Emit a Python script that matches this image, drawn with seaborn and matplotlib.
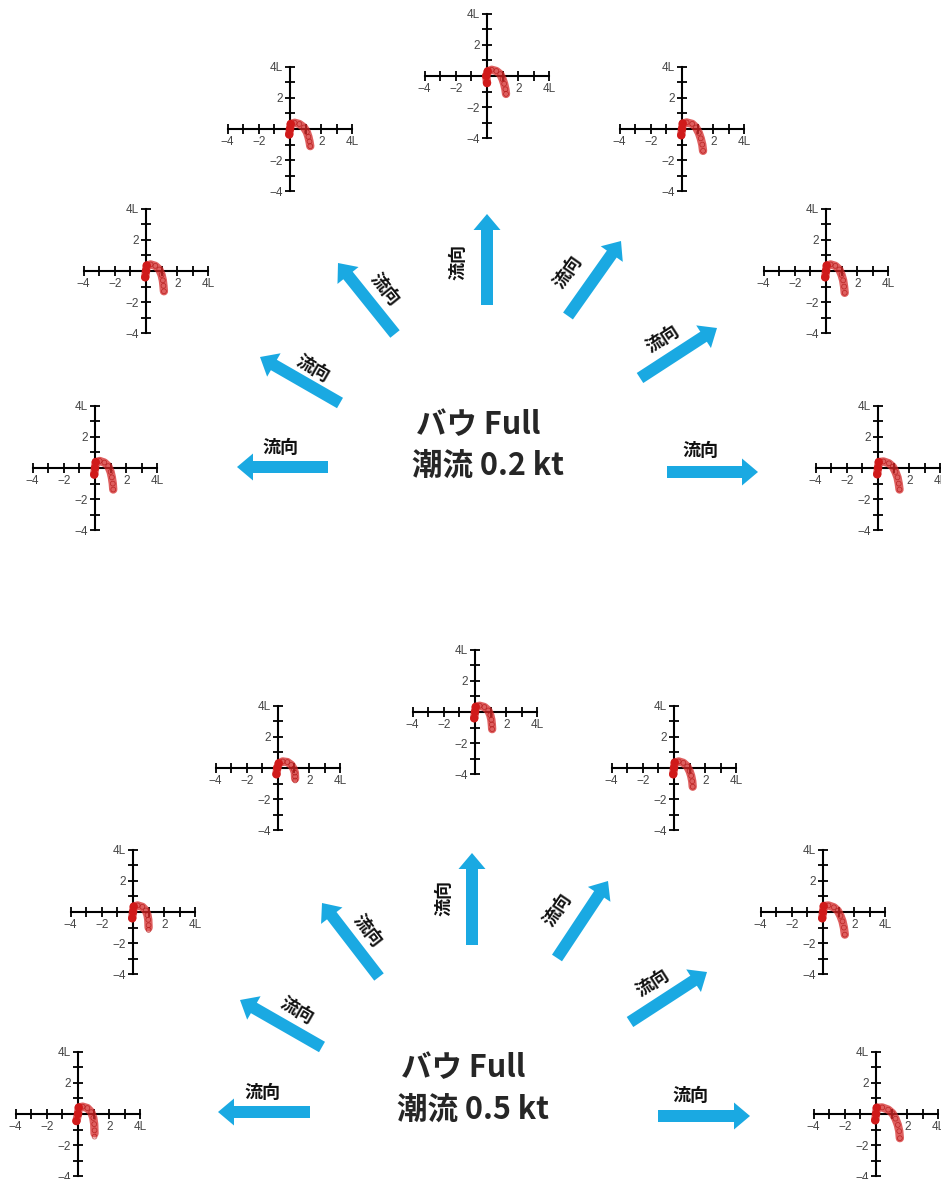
import matplotlib
matplotlib.use("Agg")
import matplotlib.pyplot as plt
from matplotlib.patches import FancyArrow
import seaborn as sns
import pandas as pd

sns.set_theme(style="white")
plt.rcParams["font.family"] = ["Noto Sans CJK JP", "DejaVu Sans"]

W, H = 941, 1179
PX = 15.6  # pixels per ship length (L) in the small track panels

# Ship tracks (in ship lengths) for each current direction, bow thruster Full
# current 0.2 kt
X_02_180 = [-0.05, 0.0, 0.05, 0.3, 0.6, 0.85, 1.0, 1.08, 1.14, 1.17]
Y_02_180 = [-0.42, 0.0, 0.38, 0.45, 0.35, 0.12, -0.25, -0.6, -1.0, -1.38]
X_02_150 = [-0.05, 0.0, 0.05, 0.3, 0.6, 0.85, 1.0, 1.08, 1.12, 1.15]
Y_02_150 = [-0.4, 0.0, 0.35, 0.42, 0.33, 0.1, -0.25, -0.6, -0.95, -1.3]
X_02_120 = [-0.05, 0.0, 0.05, 0.3, 0.6, 0.9, 1.08, 1.18, 1.25, 1.3]
Y_02_120 = [-0.35, 0.0, 0.32, 0.4, 0.32, 0.1, -0.2, -0.5, -0.8, -1.1]
X_02_090 = [0.0, -0.05, 0.05, 0.3, 0.6, 0.85, 1.0, 1.1, 1.18, 1.22]
Y_02_090 = [-0.45, 0.0, 0.3, 0.4, 0.32, 0.12, -0.2, -0.5, -0.85, -1.15]
X_02_060 = [-0.05, 0.0, 0.05, 0.3, 0.65, 0.9, 1.08, 1.2, 1.3, 1.35]
Y_02_060 = [-0.4, 0.0, 0.35, 0.42, 0.33, 0.1, -0.25, -0.6, -1.0, -1.4]
X_02_030 = [-0.05, 0.0, 0.05, 0.3, 0.6, 0.85, 1.0, 1.1, 1.16, 1.2]
Y_02_030 = [-0.4, 0.0, 0.35, 0.42, 0.33, 0.1, -0.25, -0.6, -1.0, -1.4]
X_02_000 = [-0.05, 0.0, 0.05, 0.35, 0.7, 0.95, 1.12, 1.25, 1.33, 1.38]
Y_02_000 = [-0.4, 0.0, 0.38, 0.42, 0.3, 0.08, -0.25, -0.6, -1.0, -1.38]

# current 0.5 kt
X_05_180 = [-0.1, 0.0, 0.05, 0.3, 0.6, 0.85, 0.98, 1.04, 1.06, 1.06]
Y_05_180 = [-0.45, 0.0, 0.42, 0.47, 0.38, 0.12, -0.25, -0.65, -1.05, -1.45]
X_05_150 = [-0.05, 0.0, 0.05, 0.3, 0.6, 0.82, 0.93, 0.98, 1.0, 1.0]
Y_05_150 = [-0.4, 0.0, 0.35, 0.42, 0.33, 0.1, -0.2, -0.5, -0.85, -1.15]
X_05_120 = [-0.1, -0.05, 0.05, 0.3, 0.6, 0.85, 1.0, 1.08, 1.1, 1.1]
Y_05_120 = [-0.4, 0.0, 0.3, 0.42, 0.38, 0.2, -0.05, -0.3, -0.55, -0.8]
X_05_090 = [-0.05, 0.0, 0.05, 0.3, 0.6, 0.85, 0.98, 1.05, 1.08, 1.1]
Y_05_090 = [-0.4, 0.0, 0.33, 0.4, 0.32, 0.1, -0.2, -0.5, -0.8, -1.1]
X_05_060 = [-0.05, 0.0, 0.05, 0.3, 0.6, 0.85, 1.0, 1.1, 1.17, 1.2]
Y_05_060 = [-0.4, 0.0, 0.35, 0.42, 0.33, 0.1, -0.2, -0.5, -0.85, -1.2]
X_05_030 = [-0.05, 0.0, 0.05, 0.35, 0.7, 0.95, 1.12, 1.25, 1.34, 1.4]
Y_05_030 = [-0.4, 0.0, 0.38, 0.42, 0.3, 0.08, -0.25, -0.6, -1.0, -1.45]
X_05_000 = [-0.05, 0.0, 0.05, 0.4, 0.78, 1.05, 1.25, 1.4, 1.49, 1.53]
Y_05_000 = [-0.4, 0.0, 0.4, 0.42, 0.28, 0.05, -0.3, -0.7, -1.1, -1.55]

TICKS = [-4, -3, -2, -1, 1, 2, 3, 4]
X_TICK_LABELS = ["\u22124", "", "\u22122", "", "", "2", "", "4L"]
Y_TICK_LABELS = ["\u22124", "", "\u22122", "", "", "2", "", "4L"]

TITLE_LINE1 = "バウ Full"
TITLE_02 = "潮流 0.2 kt"
TITLE_05 = "潮流 0.5 kt"
FLOW_LABEL = "流向"

ARROW_BLUE = "#1aa9e2"
TRACK_RED = "#d42a2a"

fig = plt.figure(figsize=(W / 100, H / 100), dpi=100)
fig.patch.set_facecolor("white")

# full-figure overlay in pixel coordinates for arrows and captions
ov = fig.add_axes([0, 0, 1, 1])
ov.set_xlim(0, W)
ov.set_ylim(H, 0)
ov.axis("off")


def track_panel(cx, cy, xs, ys):
    half = 4.5 * PX
    ax = fig.add_axes([(cx - half) / W, 1 - (cy + half) / H, 2 * half / W, 2 * half / H])
    df = pd.DataFrame({"x": xs, "y": ys})
    sns.lineplot(data=df, x="x", y="y", sort=False, ax=ax, color=TRACK_RED,
                 linewidth=6, alpha=0.75, solid_capstyle="round", zorder=3)
    sns.scatterplot(data=df, x="x", y="y", ax=ax, marker="o", s=12,
                    facecolor="none", edgecolor="#b01515", linewidth=0.5,
                    alpha=0.8, zorder=4)
    sns.scatterplot(data=df.iloc[:3], x="x", y="y", ax=ax, marker="o", s=36,
                    color="#d01a1a", edgecolor="none", zorder=5)
    ax.set_xlabel("")
    ax.set_ylabel("")
    ax.set_xlim(-4.5, 4.5)
    ax.set_ylim(-4.5, 4.5)
    ax.patch.set_alpha(0)
    for s in ("top", "right"):
        ax.spines[s].set_visible(False)
    for s in ("left", "bottom"):
        ax.spines[s].set_position(("data", 0))
        ax.spines[s].set_bounds(-4, 4)
        ax.spines[s].set_linewidth(1.5)
        ax.spines[s].set_color("black")
        ax.spines[s].set_zorder(2)
    ax.set_xticks(TICKS)
    ax.set_xticklabels(X_TICK_LABELS)
    ax.set_yticks(TICKS)
    ax.set_yticklabels(Y_TICK_LABELS)
    ax.tick_params(axis="both", which="major", bottom=True, left=True,
                   direction="inout", length=6.5, width=1.3, color="black",
                   labelcolor="#454545", labelsize=8.5, pad=2)
    for lab in ax.get_xticklabels() + ax.get_yticklabels():
        lab.set_family(["Liberation Sans", "DejaVu Sans"])


def flow_arrow(x0, y0, x1, y1, lx, ly, rot):
    ov.add_patch(FancyArrow(x0, y0, x1 - x0, y1 - y0, width=12, head_width=27,
                            head_length=16, length_includes_head=True,
                            color=ARROW_BLUE, linewidth=0))
    ov.text(lx, ly, FLOW_LABEL, rotation=rot, ha="center", va="center",
            fontsize=13, fontweight="bold", color="#111111",
            rotation_mode="anchor")


# ---- upper group: current 0.2 kt ----
track_panel(95, 468, X_02_180, Y_02_180)
track_panel(146, 271, X_02_150, Y_02_150)
track_panel(290, 129, X_02_120, Y_02_120)
track_panel(487, 76, X_02_090, Y_02_090)
track_panel(682, 129, X_02_060, Y_02_060)
track_panel(826, 271, X_02_030, Y_02_030)
track_panel(878, 468, X_02_000, Y_02_000)

flow_arrow(328, 467, 237, 467, 280, 447, 0)
flow_arrow(340, 403, 260, 357, 313, 368, -30)
flow_arrow(395, 334, 338, 263, 385, 289, -51)
flow_arrow(487, 305, 487, 214, 458, 262, 90)
flow_arrow(568, 316, 621, 241, 568, 272, 55)
flow_arrow(640, 378, 717, 328, 662, 339, 33)
flow_arrow(667, 472, 758, 472, 700, 450, 0)

ov.text(416, 425, TITLE_LINE1, ha="left", va="center", fontsize=22, fontweight="bold")
ov.text(412, 466, TITLE_02, ha="left", va="center", fontsize=22, fontweight="bold")

# ---- lower group: current 0.5 kt ----
track_panel(78, 1114, X_05_180, Y_05_180)
track_panel(133, 912, X_05_150, Y_05_150)
track_panel(278, 768, X_05_120, Y_05_120)
track_panel(475, 712, X_05_090, Y_05_090)
track_panel(674, 768, X_05_060, Y_05_060)
track_panel(823, 912, X_05_030, Y_05_030)
track_panel(876, 1114, X_05_000, Y_05_000)

flow_arrow(310, 1112, 218, 1112, 262, 1092, 0)
flow_arrow(322, 1047, 240, 1000, 297, 1010, -30)
flow_arrow(379, 977, 322, 903, 367, 931, -52)
flow_arrow(472, 945, 472, 853, 444, 898, 90)
flow_arrow(557, 958, 608, 881, 557, 910, 56)
flow_arrow(630, 1022, 707, 972, 652, 983, 33)
flow_arrow(658, 1116, 750, 1116, 690, 1095, 0)

ov.text(401, 1068, TITLE_LINE1, ha="left", va="center", fontsize=22, fontweight="bold")
ov.text(397, 1110, TITLE_05, ha="left", va="center", fontsize=22, fontweight="bold")

fig.savefig("out.png", dpi=100, facecolor="white")
